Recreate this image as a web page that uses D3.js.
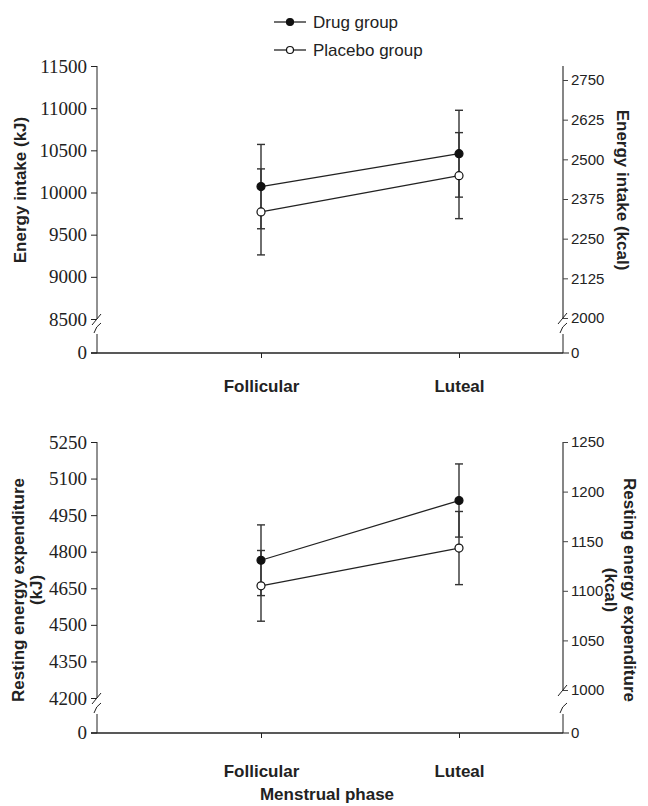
<!DOCTYPE html>
<html>
<head>
<meta charset="utf-8">
<script src="https://cdn.jsdelivr.net/npm/d3@7"></script>
<style>
  body { margin: 0; background: #fff; }
  svg { display: block; }
</style>
</head>
<body>
<svg id="chart" width="648" height="806"></svg>
<script>
// data
const phases = ["Follicular", "Luteal"];

const drugIntake = [10070, 10460];
const drugIntakeErr = [500, 515];
const placeboIntake = [9770, 10200];
const placeboIntakeErr = [510, 510];

const drugREE = [4765, 5010];
const drugREEErr = [145, 150];
const placeboREE = [4660, 4815];
const placeboREEErr = [145, 150];

const intakeKJTicks = [8500, 9000, 9500, 10000, 10500, 11000, 11500];
const intakeKcalTicks = [2000, 2125, 2250, 2375, 2500, 2625, 2750];
const reeKJTicks = [4200, 4350, 4500, 4650, 4800, 4950, 5100, 5250];
const reeKcalTicks = [1000, 1050, 1100, 1150, 1200, 1250];

const legendLabels = ["Drug group", "Placebo group"];

const svg = d3.select("#chart");
const sans = '"Liberation Sans", Arial, sans-serif';
const serif = '"Liberation Serif", "Times New Roman", serif';

const xLeft = 97, xRight = 563;
const x = d3.scalePoint().domain(phases).range([261, 459]);

let drawPanel = (cfg) => {
  const g = svg.append("g");
  const yL = d3.scaleLinear().domain(d3.extent(cfg.leftTicks)).range([cfg.yBreak, cfg.yTop]);
  const yR = d3.scaleLinear().domain(d3.extent(cfg.rightTicks)).range([cfg.yBreakR, cfg.yTopR]);
  const y0 = cfg.y0;

  // left axis (upper segment)
  const la = g.append("g").attr("transform", `translate(${xLeft},0)`)
    .call(d3.axisLeft(yL).tickValues(cfg.leftTicks).tickSize(6).tickSizeOuter(0).tickFormat(d3.format("d")));
  la.select(".domain").remove();
  la.append("line").attr("y1", cfg.yBreak).attr("y2", cfg.yTop).attr("stroke", "#222");
  la.selectAll(".tick line").attr("stroke", "#222");
  la.selectAll(".tick text").style("font-family", serif).style("font-size", "19px").attr("fill", "#222").attr("x", -10);

  // right axis (upper segment)
  const ra = g.append("g").attr("transform", `translate(${xRight},0)`)
    .call(d3.axisRight(yR).tickValues(cfg.rightTicks).tickSize(5).tickSizeOuter(0).tickPadding(3).tickFormat(d3.format("d")));
  ra.select(".domain").remove();
  ra.append("line").attr("y1", cfg.yBreakR).attr("y2", cfg.rightLineTop).attr("stroke", "#444").attr("stroke-width", 1.3);
  ra.selectAll(".tick line").attr("stroke", "#444");
  ra.selectAll(".tick text").style("font-family", sans).style("font-size", "15px").attr("fill", "#222");

  // lower segment with the zero
  [[xLeft, cfg.yBreak, -1], [xRight, cfg.yBreakR, 1]].forEach(([ax, yb, side]) => {
    g.append("line").attr("x1", ax).attr("x2", ax).attr("y1", y0).attr("y2", y0 - 19).attr("stroke", "#222");
    g.append("path").attr("d", `M${ax - 3},${y0 - 20} Q${ax - 1},${y0 - 27} ${ax + 4},${y0 - 30}`)
      .attr("fill", "none").attr("stroke", "#222");
    g.append("line").attr("x1", ax - 5).attr("x2", ax + 4).attr("y1", yb + 6).attr("y2", yb - 5)
      .attr("stroke", "#222");
    g.append("line").attr("x1", ax).attr("x2", ax + 6 * side).attr("y1", y0).attr("y2", y0).attr("stroke", "#222");
  });
  g.append("text").attr("x", xLeft - 10).attr("y", y0).attr("dy", "0.32em").attr("text-anchor", "end")
    .style("font-family", serif).style("font-size", "19px").attr("fill", "#222").text("0");
  g.append("text").attr("x", xRight + 8).attr("y", y0).attr("dy", "0.32em")
    .style("font-family", sans).style("font-size", "15px").attr("fill", "#222").text("0");

  // x axis
  const xa = g.append("g").attr("transform", `translate(0,${y0})`)
    .call(d3.axisBottom(x).tickSize(5).tickSizeOuter(0).tickPadding(cfg.labelPad));
  xa.select(".domain").remove();
  xa.append("line").attr("x1", xLeft - 6).attr("x2", xRight).attr("stroke", "#222").attr("stroke-width", 1.3);
  xa.selectAll(".tick line").attr("stroke", "#222");
  xa.selectAll(".tick text").style("font-family", sans).style("font-size", "17px").style("font-weight", "bold").attr("fill", "#222");

  // axis titles
  cfg.leftTitle.forEach((t, i) => {
    g.append("text").attr("transform", `translate(${cfg.leftTitleX[i]},${cfg.titleY}) rotate(-90)`)
      .attr("text-anchor", "middle").style("font-family", sans).style("font-size", "17px").style("font-weight", "bold")
      .attr("fill", "#222").text(t);
  });
  cfg.rightTitle.forEach((t, i) => {
    g.append("text").attr("transform", `translate(${cfg.rightTitleX[i]},${cfg.titleY}) rotate(90)`)
      .attr("text-anchor", "middle").style("font-family", sans).style("font-size", "17px").style("font-weight", "bold")
      .attr("fill", "#222").text(t);
  });

  // series
  const series = [
    { vals: cfg.drug, errs: cfg.drugErr, fill: "#111" },
    { vals: cfg.placebo, errs: cfg.placeboErr, fill: "#fff" }
  ];
  const line = d3.line().x((d, i) => x(phases[i])).y(d => yL(d));
  series.forEach(s => {
    g.append("path").datum(s.vals).attr("d", line).attr("fill", "none").attr("stroke", "#222").attr("stroke-width", 1.3);
  });
  series.forEach(s => {
    s.vals.forEach((v, i) => {
      const cx = x(phases[i]);
      const eb = g.append("g").attr("stroke", "#333").attr("stroke-width", 1.4);
      eb.append("line").attr("x1", cx).attr("x2", cx).attr("y1", yL(v - s.errs[i])).attr("y2", yL(v + s.errs[i]));
      [v - s.errs[i], v + s.errs[i]].forEach(e => {
        eb.append("line").attr("x1", cx - 4).attr("x2", cx + 4).attr("y1", yL(e)).attr("y2", yL(e));
      });
    });
  });
  series.forEach(s => {
    g.selectAll(null).data(s.vals).enter().append("circle")
      .attr("cx", (d, i) => x(phases[i])).attr("cy", d => yL(d)).attr("r", 4)
      .attr("fill", s.fill).attr("stroke", "#111").attr("stroke-width", 1.2);
  });
};

drawPanel({
  leftTicks: intakeKJTicks, rightTicks: intakeKcalTicks,
  yTop: 66, yBreak: 319, yTopR: 80, yBreakR: 318, rightLineTop: 66, y0: 353, labelPad: 22,
  drug: drugIntake, drugErr: drugIntakeErr, placebo: placeboIntake, placeboErr: placeboIntakeErr,
  leftTitle: ["Energy intake (kJ)"], leftTitleX: [26],
  rightTitle: ["Energy intake (kcal)"], rightTitleX: [617], titleY: 190
});

drawPanel({
  leftTicks: reeKJTicks, rightTicks: reeKcalTicks,
  yTop: 442, yBreak: 698, yTopR: 442, yBreakR: 690, rightLineTop: 442, y0: 733, labelPad: 27,
  drug: drugREE, drugErr: drugREEErr, placebo: placeboREE, placeboErr: placeboREEErr,
  leftTitle: ["Resting energy expenditure", "(kJ)"], leftTitleX: [24, 42],
  rightTitle: ["Resting energy expenditure", "(kcal)"], rightTitleX: [624, 605], titleY: 590
});

// legend
const lg = svg.append("g");
legendLabels.forEach((t, i) => {
  const ly = 22 + i * 28;
  lg.append("line").attr("x1", 274).attr("x2", 306).attr("y1", ly).attr("y2", ly).attr("stroke", "#222").attr("stroke-width", 1.3);
  lg.append("circle").attr("cx", 290).attr("cy", ly).attr("r", 3.5)
    .attr("fill", i === 0 ? "#111" : "#fff").attr("stroke", "#111").attr("stroke-width", 1.2);
  lg.append("text").attr("x", 313).attr("y", ly).attr("dy", "0.35em")
    .style("font-family", sans).style("font-size", "17px").attr("fill", "#222").text(t);
});

svg.append("text").attr("x", 327).attr("y", 800).attr("text-anchor", "middle")
  .style("font-family", sans).style("font-size", "17px").style("font-weight", "bold").attr("fill", "#222")
  .text("Menstrual phase");
</script>
</body>
</html>
